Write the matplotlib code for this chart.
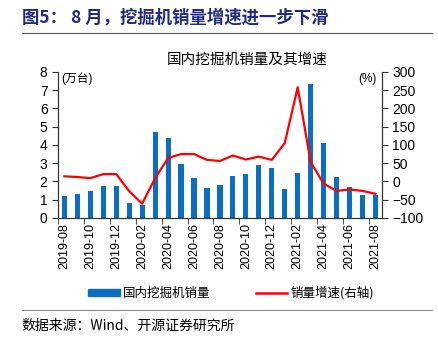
import matplotlib.pyplot as plt
import numpy as np

plt.rcParams['font.family'] = ['Liberation Sans', 'Noto Sans CJK SC', 'DejaVu Sans']

months = ["2019-08", "2019-09", "2019-10", "2019-11", "2019-12",
          "2020-01", "2020-02", "2020-03", "2020-04", "2020-05", "2020-06",
          "2020-07", "2020-08", "2020-09", "2020-10", "2020-11", "2020-12",
          "2021-01", "2021-02", "2021-03", "2021-04", "2021-05", "2021-06",
          "2021-07", "2021-08"]
# 国内挖掘机销量 (万台)
sales = [1.18, 1.33, 1.49, 1.73, 1.75, 0.80, 0.71, 4.69, 4.36, 2.96, 2.18,
         1.64, 1.83, 2.28, 2.41, 2.89, 2.74, 1.61, 2.47, 7.34, 4.11, 2.23,
         1.72, 1.24, 1.24]
# 销量增速 (%)
growth = [14, 12, 9, 20, 20, -27, -61, 9, 64, 75, 75, 59, 56, 71, 60, 68,
          59, 105, 258, 53, -6, -26, -22, -26, -34]

BLUE = "#0A6FC2"
RED = "#FF0000"
NAVY = "#1F2A80"

fig = plt.figure(figsize=(4.39, 3.41), dpi=100)
ax = fig.add_axes([0.132, 0.361, 0.738, 0.428])
ax2 = ax.twinx()

x = np.arange(len(months))
ax.bar(x, sales, width=0.4, color=BLUE, linewidth=0, zorder=2)
ax2.plot(x, growth, color=RED, lw=1.6, zorder=3)
ax.set_zorder(ax2.get_zorder() - 1)
ax.patch.set_visible(False)
ax2.patch.set_visible(False)

ax.set_xlim(-0.5, len(months) - 0.5)
ax.set_ylim(0, 8)
ax.set_yticks(range(0, 9))
ax2.set_ylim(-100, 300)
ax2.set_yticks(range(-100, 301, 50))

# labels every other month, tick marks between the bars
ax.set_xticks(x[::2])
ax.set_xticklabels(months[::2], rotation=90)
ax.set_xticks(np.arange(-0.5, len(months), 2), minor=True)
ax.tick_params(axis='x', which='major', length=0, pad=4, labelsize=9)
ax.tick_params(axis='x', which='minor', length=4, direction='out', color='#333333')
ax.tick_params(axis='y', length=4, labelsize=10, color='#333333')
ax2.tick_params(axis='y', length=4, labelsize=10, color='#333333')

for a in (ax, ax2):
    a.spines['top'].set_visible(False)
    for s in ('left', 'right', 'bottom'):
        a.spines[s].set_color('#333333')

ax.text(0.01, 0.995, "(万台)", transform=ax.transAxes, fontsize=8.5,
        va='top', ha='left')
ax2.text(0.985, 0.995, "(%)", transform=ax2.transAxes, fontsize=8.5,
         va='top', ha='right')

fig.text(0.563, 0.825, "国内挖掘机销量及其增速", fontsize=10.5, ha='center',
         va='center', family=['Noto Sans CJK SC'])

handles = [plt.Rectangle((0, 0), 1, 0.6, color=BLUE),
           plt.Line2D([0], [0], color=RED, lw=1.8)]
fig.legend(handles, ["国内挖掘机销量", "销量增速(右轴)"], ncol=2,
           loc='center', bbox_to_anchor=(0.527, 0.141), frameon=False,
           handlelength=2.5, handleheight=0.5,
           columnspacing=3.6, handletextpad=0.3,
           prop={'family': ['Noto Sans CJK SC', 'Liberation Sans'], 'size': 9})

# header and footer
fig.text(0.05, 0.95, "图5： 8 月，挖掘机销量增速进一步下滑", fontsize=12.5,
         fontweight='bold', color=NAVY, ha='left', va='center',
         family=['Noto Sans CJK SC'])
fig.add_artist(plt.Line2D([0.05, 0.985], [0.903, 0.903], color='#555555',
                          lw=0.8, transform=fig.transFigure))
fig.add_artist(plt.Line2D([0.05, 0.985], [0.091, 0.091], color='#888888',
                          lw=0.8, transform=fig.transFigure))
fig.text(0.05, 0.045, "数据来源：Wind、开源证券研究所", fontsize=10,
         ha='left', va='center', family=['Noto Sans CJK SC'])

fig.savefig("out.png", dpi=100)
